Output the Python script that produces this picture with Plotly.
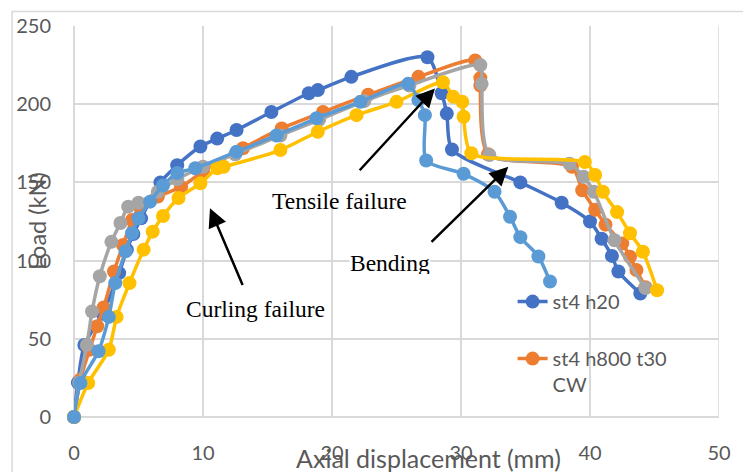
import plotly.graph_objects as go

# Load-displacement curves (axial displacement in mm, load in kN)
st4_h20_x = [0, 0.3, 0.8, 2.2, 3.5, 4.1, 4.6, 5.2, 6.7, 8.0, 9.8, 11.1, 12.6, 15.3, 18.2, 18.9,
             21.5, 27.4, 28.5, 28.9, 29.3, 34.6, 37.8, 40.0, 40.9, 41.7, 42.2, 43.9]
st4_h20_y = [0, 22, 46, 66, 92, 107, 117, 127, 150, 161, 173, 178, 183.5, 195, 207, 209,
             217.5, 230, 207, 194, 171, 150, 137, 125, 114, 103, 93, 79]

st4_h800_x = [0, 0.5, 1.2, 1.8, 2.3, 3.1, 3.8, 4.5, 5.1, 6.5, 8.3, 10.0, 13.1, 16.1, 19.3,
              22.8, 26.7, 31.1, 31.5, 31.5, 32.1, 38.6, 39.4, 40.4, 41.2, 42.5, 43.1, 43.6, 44.3]
st4_h800_y = [0, 24, 43, 58, 70, 93, 110, 126, 134.5, 141, 147, 157, 171.8, 184.5, 195,
              206, 217.5, 228, 216.7, 212, 168, 160, 145, 132.5, 123, 111, 102.5, 94, 83]

series3_x = [0, 0.4, 1.0, 1.4, 2.0, 2.9, 3.6, 4.2, 5.0, 6.5, 8.0, 10.0, 12.5, 16.0, 19.0,
             22.5, 26.0, 31.5, 31.6, 32.2, 38.4, 39.5, 40.3, 41.9, 44.3]
series3_y = [0, 22, 46, 67.5, 90, 112, 124, 134.5, 137, 144, 152, 160, 168, 180, 190,
             202, 212, 225, 213, 167.5, 162, 153.6, 144, 113, 82.4]

series4_x = [0, 1.1, 2.7, 3.3, 4.3, 5.4, 6.1, 6.9, 8.1, 9.8, 11.1, 11.6, 16.0, 18.9, 21.9,
             25.0, 28.6, 29.4, 30.1, 30.2, 30.8, 39.6, 40.4, 41.0, 42.1, 43.1, 44.1, 45.2]
series4_y = [0, 21.7, 43, 64, 85.6, 107, 118.5, 128.5, 140, 149.4, 159, 160, 170.7, 182.4, 193,
             201.5, 214, 204.7, 201.5, 192, 168.6, 163, 154.7, 144, 131, 117.5, 105.7, 81]

series5_x = [0, 0.5, 1.9, 2.7, 3.2, 4.0, 4.5, 5.0, 5.9, 6.9, 8.0, 9.4, 12.6, 15.7, 18.8,
             22.2, 25.9, 26.7, 27.2, 27.3, 30.2, 32.6, 33.8, 34.6, 36.0, 36.9]
series5_y = [0, 21.7, 42, 64, 85.6, 106, 117.5, 127, 137.7, 148, 156, 159, 169.6, 180, 191,
             201.5, 213, 202.6, 193, 164, 155.5, 144, 128, 115, 102.6, 86.6]

series = [
    ("st4 h20", st4_h20_x, st4_h20_y, "#4472C4", True),
    ("st4 h800 t30<br>CW", st4_h800_x, st4_h800_y, "#ED7D31", True),
    ("series 3", series3_x, series3_y, "#A5A5A5", False),
    ("series 4", series4_x, series4_y, "#FFC000", False),
    ("series 5", series5_x, series5_y, "#5B9BD5", False),
]

x_ticks = [0, 10, 20, 30, 40, 50]
y_ticks = [0, 50, 100, 150, 200, 250]

grid = "#D9D9D9"
tick_font = dict(family="Lato", size=20, color="#595959")
serif = dict(family="Liberation Serif", size=23.5, color="black")

fig = go.Figure()
for i, (name, xs, ys, color, in_legend) in enumerate(series):
    fig.add_trace(go.Scatter(
        x=xs, y=ys, name=name, mode="lines+markers",
        line=dict(color=color, width=3.5, shape="spline", smoothing=0.7),
        marker=dict(color=color, size=14),
        showlegend=in_legend, legendgroup=f"g{i}", cliponaxis=False,
    ))

fig.update_xaxes(
    range=[0, 50], tickvals=x_ticks, showgrid=True, gridcolor=grid, gridwidth=1.5,
    zeroline=True, zerolinecolor=grid, zerolinewidth=1.5, showline=False,
    tickfont=tick_font, ticks="", ticklabelstandoff=22, automargin=False,
)
fig.update_yaxes(
    range=[0, 250], tickvals=y_ticks, showgrid=True, gridcolor=grid, gridwidth=1.5,
    zeroline=True, zerolinecolor=grid, zerolinewidth=1.5, showline=False,
    tickfont=tick_font, ticks="", ticklabelstandoff=22, automargin=False,
)

# Right edge of the plot area
fig.add_shape(type="line", xref="x", yref="paper", x0=50, x1=50, y0=0, y1=1,
              line=dict(color=grid, width=1.5), layer="below")
# Outer chart frame
fig.add_shape(type="rect", xref="paper", yref="paper", x0=-0.096, x1=1.2, y0=-0.3, y1=1.037,
              line=dict(color=grid, width=1.5), layer="below")

annotations = [
    # axis titles
    dict(text="Axial displacement (mm)", xref="paper", yref="paper", x=0.549, y=-0.105,
         showarrow=False, font=dict(family="Lato", size=25, color="#595959"),
         xanchor="center", yanchor="middle"),
    dict(text="Load (kN)", xref="paper", yref="paper", x=-0.058, y=0.5, textangle=-90,
         showarrow=False, font=dict(family="Lato", size=23.5, color="#595959"),
         xanchor="center", yanchor="middle"),
    # failure mode labels
    dict(text="Tensile failure", x=20.6, y=138, showarrow=False, font=serif),
    dict(text="Curling failure", x=14.1, y=69, showarrow=False, font=serif),
    dict(text="Bending", x=24.5, y=107.5, showarrow=False, font=serif, yanchor="top",
         valign="top", height=24, bgcolor="white", borderpad=0),
    # arrows
    dict(text="", x=27.98, y=210.1, ax=22.04, ay=156.8, axref="x", ayref="y",
         showarrow=True, arrowhead=2, arrowsize=1.5, arrowwidth=2.5, arrowcolor="black"),
    dict(text="", x=33.67, y=160.0, ax=27.6, ay=111.1, axref="x", ayref="y",
         showarrow=True, arrowhead=2, arrowsize=1.5, arrowwidth=2.5, arrowcolor="black"),
    dict(text="", x=10.54, y=133.5, ax=13.12, ay=83.4, axref="x", ayref="y",
         showarrow=True, arrowhead=2, arrowsize=1.5, arrowwidth=2.5, arrowcolor="black"),
]

fig.update_layout(
    width=743, height=472,
    margin=dict(l=74, r=24, t=26, b=55),
    paper_bgcolor="white", plot_bgcolor="white",
    annotations=annotations,
    legend=dict(x=0.68, y=0.345, xanchor="left", yanchor="top",
                font=dict(family="Lato", size=20, color="#595959"),
                bgcolor="rgba(0,0,0,0)", tracegroupgap=28, valign="top"),
)

fig.write_html("out.html")
